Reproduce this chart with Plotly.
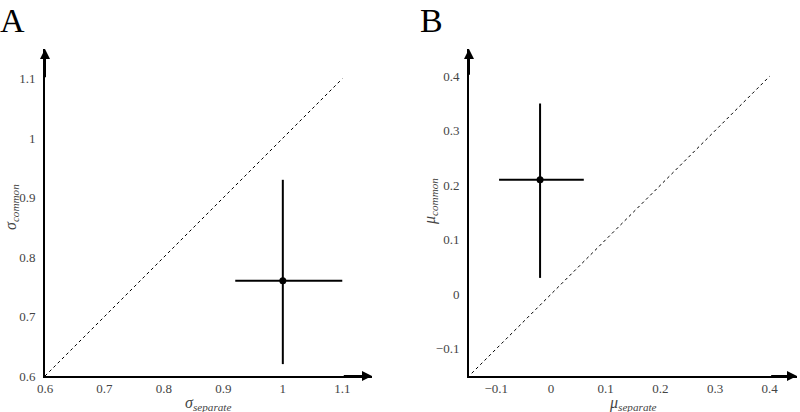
import plotly.graph_objects as go

# Panel A: sigma
sigma_sep = [1.0]
sigma_com = [0.76]
sigma_sep_lo = [0.92]
sigma_sep_hi = [1.10]
sigma_com_lo = [0.62]
sigma_com_hi = [0.93]
ticksA = [0.6, 0.7, 0.8, 0.9, 1.0, 1.1]
ticktextA = ["0.6", "0.7", "0.8", "0.9", "1", "1.1"]
rangeA = [0.6, 1.15]
diagA = [0.6, 1.1]

# Panel B: mu
mu_sep = [-0.02]
mu_com = [0.21]
mu_sep_lo = [-0.095]
mu_sep_hi = [0.06]
mu_com_lo = [0.03]
mu_com_hi = [0.35]
ticksB = [-0.1, 0.0, 0.1, 0.2, 0.3, 0.4]
ticktextB = ["\u22120.1", "0", "0.1", "0.2", "0.3", "0.4"]
rangeB = [-0.15, 0.45]
diagB = [-0.145, 0.4]

FONT = "Liberation Serif"
fig = go.Figure()

def add_panel(xs, ys, xlo, xhi, ylo, yhi, diag, xa, ya):
    fig.add_trace(go.Scatter(x=diag, y=diag, mode="lines", xaxis=xa, yaxis=ya,
                             line=dict(color="black", width=1, dash="3px,3px"),
                             showlegend=False, hoverinfo="skip"))
    fig.add_trace(go.Scatter(
        x=xs, y=ys, mode="markers", xaxis=xa, yaxis=ya,
        marker=dict(color="black", size=7),
        error_x=dict(type="data", symmetric=False,
                     array=[h - x for h, x in zip(xhi, xs)],
                     arrayminus=[x - l for l, x in zip(xlo, xs)],
                     color="black", thickness=2, width=0),
        error_y=dict(type="data", symmetric=False,
                     array=[h - y for h, y in zip(yhi, ys)],
                     arrayminus=[y - l for l, y in zip(ylo, ys)],
                     color="black", thickness=2, width=0),
        showlegend=False))

add_panel(sigma_sep, sigma_com, sigma_sep_lo, sigma_sep_hi, sigma_com_lo, sigma_com_hi, diagA, "x", "y")
add_panel(mu_sep, mu_com, mu_sep_lo, mu_sep_hi, mu_com_lo, mu_com_hi, diagB, "x2", "y2")

ydom = [36 / 412, 363 / 412]
common = dict(showgrid=False, zeroline=False, showline=True, linecolor="black",
              linewidth=2, ticks="", tickfont=dict(family=FONT, size=13, color="#444"),
              automargin=False, fixedrange=True)

fig.update_layout(
    width=800, height=412, margin=dict(l=0, r=0, t=0, b=0),
    plot_bgcolor="white", paper_bgcolor="white",
    xaxis=dict(domain=[45 / 800, 372 / 800], range=rangeA, tickvals=ticksA, ticktext=ticktextA,
               anchor="y", ticklabelstandoff=-1, **common),
    yaxis=dict(domain=ydom, range=rangeA, tickvals=ticksA, ticktext=ticktextA,
               anchor="x", ticklabelstandoff=5, **common),
    xaxis2=dict(domain=[469 / 800, 797 / 800], range=rangeB, tickvals=ticksB, ticktext=ticktextB,
                anchor="y2", ticklabelstandoff=-1, **common),
    yaxis2=dict(domain=ydom, range=rangeB, tickvals=ticksB, ticktext=ticktextB,
                anchor="x2", ticklabelstandoff=5, **common),
)

ann = []
# arrowheads
for xa, ya, r in [("x", "y", rangeA), ("x2", "y2", rangeB)]:
    ann.append(dict(x=r[1], y=r[0], ax=r[1] - 0.05, ay=r[0], xref=xa, yref=ya, axref=xa, ayref=ya,
                    showarrow=True, arrowhead=2, arrowsize=1, arrowwidth=2, arrowcolor="black", text=""))
    ann.append(dict(x=r[0], y=r[1], ax=r[0], ay=r[1] - 0.05, xref=xa, yref=ya, axref=xa, ayref=ya,
                    showarrow=True, arrowhead=2, arrowsize=1, arrowwidth=2, arrowcolor="black", text=""))
# axis titles
tfont = dict(family=FONT, size=16, color="#444")
ann += [
    dict(x=208 / 800, y=9 / 412, xref="paper", yref="paper", xanchor="center", yanchor="middle",
         showarrow=False, borderpad=0, text="<i>σ<sub>separate</sub></i>", font=tfont),
    dict(x=11 / 800, y=205 / 412, xref="paper", yref="paper", xanchor="center", yanchor="middle",
         showarrow=False, borderpad=0, textangle=-90, text="<i>σ<sub>common</sub></i>", font=tfont),
    dict(x=633 / 800, y=9 / 412, xref="paper", yref="paper", xanchor="center", yanchor="middle",
         showarrow=False, borderpad=0, text="<i>μ<sub>separate</sub></i>", font=tfont),
    dict(x=430 / 800, y=210 / 412, xref="paper", yref="paper", xanchor="center", yanchor="middle",
         showarrow=False, borderpad=0, textangle=-90, text="<i>μ<sub>common</sub></i>", font=tfont),
    dict(x=-2 / 800, y=1, xref="paper", yref="paper", xanchor="left", yanchor="top", showarrow=False,
         text="A", font=dict(family=FONT, size=34, color="black")),
    dict(x=418 / 800, y=1, xref="paper", yref="paper", xanchor="left", yanchor="top", showarrow=False,
         text="B", font=dict(family=FONT, size=34, color="black")),
]
fig.update_layout(annotations=ann)
fig.write_html("out.html", config={"displayModeBar": False},
               post_script="document.body.style.margin='0';document.body.style.padding='0';")
